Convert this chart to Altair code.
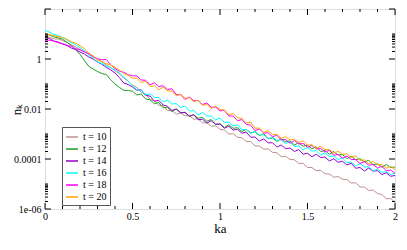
import altair as alt
import pandas as pd

# ---------------- data ----------------
ka = [round(i * 0.025, 3) for i in range(81)]

series_labels = ["t = 10", "t = 12", "t = 14", "t = 16", "t = 18", "t = 20"]
series_colors = ["#bc8f8f", "#1f9f1f", "#9400d3", "#00ffff", "#ff00ff", "#ffa500"]

# log10(n_k) at each ka
log_nk_t10 = [0.89, 0.87, 0.81, 0.80, 0.74, 0.67, 0.56, 0.49, 0.38, 0.30, 0.19, 0.11, -0.01, -0.11, -0.24, -0.34,
              -0.47, -0.60, -0.76, -0.89, -1.05, -1.13, -1.34, -1.39, -1.62, -1.67, -1.85, -1.87, -2.06, -2.06,
              -2.20, -2.16, -2.27, -2.27, -2.41, -2.39, -2.55, -2.55, -2.69, -2.67, -2.81, -2.84, -3.00, -2.99,
              -3.13, -3.15, -3.30, -3.30, -3.48, -3.48, -3.61, -3.59, -3.73, -3.75, -3.91, -3.89, -4.02, -4.03,
              -4.18, -4.17, -4.34, -4.34, -4.47, -4.45, -4.59, -4.60, -4.73, -4.70, -4.81, -4.82, -4.96, -4.95,
              -5.12, -5.12, -5.26, -5.24, -5.38, -5.42, -5.59, -5.58, -5.73]
log_nk_t12 = [1.00, 0.96, 0.89, 0.85, 0.79, 0.67, 0.55, 0.37, 0.19, -0.06, -0.29, -0.40, -0.50, -0.58, -0.62, -0.83,
              -1.00, -1.14, -1.25, -1.26, -1.29, -1.44, -1.40, -1.60, -1.63, -1.79, -1.74, -1.95, -1.94, -2.10,
              -2.00, -2.15, -2.14, -2.30, -2.23, -2.37, -2.34, -2.49, -2.42, -2.62, -2.59, -2.74, -2.63, -2.77,
              -2.75, -2.90, -2.82, -2.95, -2.91, -3.06, -2.99, -3.19, -3.16, -3.30, -3.18, -3.31, -3.28, -3.44,
              -3.35, -3.49, -3.45, -3.59, -3.51, -3.70, -3.66, -3.81, -3.70, -3.84, -3.82, -3.98, -3.89, -4.03,
              -3.99, -4.12, -4.05, -4.23, -4.19, -4.33, -4.22, -4.34, -4.32]
log_nk_t14 = [0.86, 0.82, 0.72, 0.68, 0.60, 0.54, 0.44, 0.38, 0.28, 0.20, 0.08, 0.00, -0.12, -0.21, -0.34, -0.43,
              -0.56, -0.74, -0.96, -1.02, -1.12, -1.25, -1.23, -1.46, -1.48, -1.69, -1.65, -1.84, -1.89, -2.06,
              -2.00, -2.15, -2.13, -2.28, -2.23, -2.43, -2.41, -2.56, -2.47, -2.61, -2.60, -2.77, -2.69, -2.84,
              -2.81, -2.97, -2.92, -3.13, -3.12, -3.28, -3.20, -3.35, -3.35, -3.52, -3.44, -3.59, -3.56, -3.70,
              -3.62, -3.81, -3.77, -3.91, -3.81, -3.94, -3.92, -4.08, -3.99, -4.13, -4.09, -4.24, -4.17, -4.37,
              -4.34, -4.48, -4.36, -4.49, -4.46, -4.62, -4.55, -4.69, -4.66]
log_nk_t16 = [1.14, 1.08, 0.99, 0.94, 0.85, 0.77, 0.65, 0.57, 0.45, 0.33, 0.17, 0.04, -0.12, -0.18, -0.28, -0.34,
              -0.44, -0.56, -0.72, -0.88, -1.08, -1.23, -1.25, -1.44, -1.39, -1.54, -1.54, -1.72, -1.65, -1.80,
              -1.78, -1.94, -1.88, -2.08, -2.06, -2.23, -2.14, -2.28, -2.28, -2.44, -2.37, -2.53, -2.52, -2.68,
              -2.63, -2.83, -2.81, -2.98, -2.89, -3.03, -3.03, -3.19, -3.12, -3.26, -3.23, -3.38, -3.31, -3.50,
              -3.48, -3.63, -3.54, -3.68, -3.67, -3.84, -3.76, -3.90, -3.88, -4.02, -3.96, -4.15, -4.12, -4.28,
              -4.18, -4.32, -4.31, -4.48, -4.40, -4.53, -4.50, -4.63, -4.56]
log_nk_t18 = [0.75, 0.75, 0.72, 0.65, 0.62, 0.55, 0.51, 0.42, 0.37, 0.28, 0.22, 0.09, 0.01, -0.03, -0.02, -0.23,
              -0.38, -0.49, -0.53, -0.63, -0.67, -0.68, -0.84, -0.85, -1.03, -0.95, -1.10, -1.07, -1.22, -1.19,
              -1.42, -1.43, -1.62, -1.52, -1.67, -1.66, -1.82, -1.76, -1.93, -1.92, -2.08, -2.05, -2.28, -2.28,
              -2.47, -2.42, -2.61, -2.65, -2.86, -2.80, -2.96, -2.95, -3.11, -3.05, -3.24, -3.22, -3.37, -3.26,
              -3.40, -3.38, -3.53, -3.46, -3.60, -3.58, -3.72, -3.65, -3.85, -3.82, -3.97, -3.88, -4.02, -4.02,
              -4.18, -4.10, -4.25, -4.22, -4.36, -4.29, -4.47, -4.44, -4.58]
log_nk_t20 = [1.00, 0.97, 0.94, 0.89, 0.86, 0.79, 0.69, 0.63, 0.53, 0.41, 0.24, 0.12, -0.04, -0.10, -0.19, -0.24,
              -0.33, -0.44, -0.59, -0.65, -0.77, -0.77, -0.94, -0.89, -1.10, -1.07, -1.23, -1.13, -1.27, -1.28,
              -1.47, -1.41, -1.57, -1.55, -1.71, -1.65, -1.85, -1.82, -1.98, -1.88, -2.02, -2.04, -2.23, -2.18,
              -2.35, -2.37, -2.56, -2.53, -2.77, -2.76, -2.94, -2.86, -3.02, -3.01, -3.18, -3.10, -3.24, -3.21,
              -3.34, -3.27, -3.45, -3.43, -3.58, -3.49, -3.63, -3.62, -3.77, -3.69, -3.82, -3.79, -3.94, -3.87,
              -4.06, -4.03, -4.19, -4.09, -4.23, -4.22, -4.37, -4.29, -4.42]

all_series = [log_nk_t10, log_nk_t12, log_nk_t14, log_nk_t16, log_nk_t18, log_nk_t20]

x_major_ticks = [0, 0.5, 1.0, 1.5, 2.0]
x_minor_ticks = [0.1, 0.2, 0.3, 0.4, 0.6, 0.7, 0.8, 0.9, 1.1, 1.2, 1.3, 1.4, 1.6, 1.7, 1.8, 1.9]
y_major_ticks = [1e-6, 1e-4, 1e-2, 1, 100]
y_minor_ticks = [2e-6, 3e-6, 4e-6, 5e-6, 6e-6, 7e-6, 8e-6, 9e-6, 1e-5,
                 2e-4, 3e-4, 4e-4, 5e-4, 6e-4, 7e-4, 8e-4, 9e-4, 1e-3,
                 0.02, 0.03, 0.04, 0.05, 0.06, 0.07, 0.08, 0.09, 0.1,
                 2, 3, 4, 5, 6, 7, 8, 9, 10]
y_label_values = [1e-6, 1e-4, 1e-2, 1]

# ---------------- build table ----------------
rows = []
for si, (lab, vals) in enumerate(zip(series_labels, all_series)):
    for k, lv in zip(ka, vals):
        rows.append({"ka": k, "nk": 10 ** lv, "series": lab, "s": si})
df = pd.DataFrame(rows)

W, H = 350, 200
FONT = "Liberation Serif"

xs = alt.Scale(domain=[0, 2], nice=False, zero=False)
ys = alt.Scale(type="log", domain=[1e-6, 100], nice=False)

x_axis = alt.Axis(
    values=x_major_ticks, format=".1~f", ticks=False, domain=False, grid=False,
    labelFont=FONT, labelFontSize=10, labelPadding=2, labelColor="black", labelFlush=False,
    title="ka", titleFont=FONT, titleFontSize=13, titleFontWeight="normal",
    titleColor="black", titlePadding=1)
y_axis = alt.Axis(
    values=y_label_values, ticks=False, domain=False, grid=False,
    labelExpr="datum.value >= 0.5 ? '1' : datum.value >= 0.005 ? '0.01' : datum.value >= 0.00005 ? '0.0001' : '1e-06'",
    labelFont=FONT, labelFontSize=10, labelPadding=4, labelColor="black", labelFlush=False,
    title="nₖ", titleFont=FONT, titleFontSize=13, titleFontWeight="normal",
    titleColor="black", titleX=-29, titleY=H / 2, titleAngle=270,
    titleBaseline="middle", titleAlign="center")

lines = alt.Chart(df).mark_line(strokeWidth=1, clip=True).encode(
    x=alt.X("ka:Q", scale=xs, axis=x_axis),
    y=alt.Y("nk:Q", scale=ys, axis=y_axis),
    color=alt.Color("series:N", scale=alt.Scale(domain=series_labels, range=series_colors),
                    legend=alt.Legend(orient="none", legendX=17, legendY=118, title=None,
                                      symbolType="stroke", symbolSize=144, symbolStrokeWidth=1.5,
                                      labelFont=FONT, labelFontSize=10, labelColor="black",
                                      strokeColor="#555555", fillColor="white", padding=3,
                                      rowPadding=-3, labelOffset=4, cornerRadius=0)),
    detail="s:O",
    order="s:O",
)


def xtick_layer(vals, length, top):
    d = pd.DataFrame({"ka": vals})
    if top:
        enc = dict(y=alt.value(0), y2=alt.value(length))
    else:
        enc = dict(y=alt.value(H), y2=alt.value(H - length))
    return alt.Chart(d).mark_rule(color="black", strokeWidth=1).encode(
        x=alt.X("ka:Q", scale=xs, axis=x_axis), **enc)


def ytick_layer(vals, length, right):
    d = pd.DataFrame({"nk": vals})
    if right:
        enc = dict(x=alt.value(W), x2=alt.value(W - length))
    else:
        enc = dict(x=alt.value(0), x2=alt.value(length))
    return alt.Chart(d).mark_rule(color="black", strokeWidth=1).encode(
        y=alt.Y("nk:Q", scale=ys, axis=y_axis), **enc)


ticks = [
    xtick_layer(x_major_ticks, 6, False), xtick_layer(x_minor_ticks, 3, False),
    xtick_layer(x_major_ticks, 6, True), xtick_layer(x_minor_ticks, 3, True),
    ytick_layer(y_major_ticks, 6, False), ytick_layer(y_minor_ticks, 3, False),
    ytick_layer(y_major_ticks, 6, True), ytick_layer(y_minor_ticks, 3, True),
]

chart = alt.layer(lines, *ticks).properties(
    width=W, height=H,
    autosize=alt.AutoSizeParams(type="none"),
    padding={"left": 37, "top": 1, "right": 4, "bottom": 26},
).configure_view(stroke="black", strokeWidth=1).configure(background="white")

chart.save("out.html", embed_options={"renderer": "svg", "actions": False})
